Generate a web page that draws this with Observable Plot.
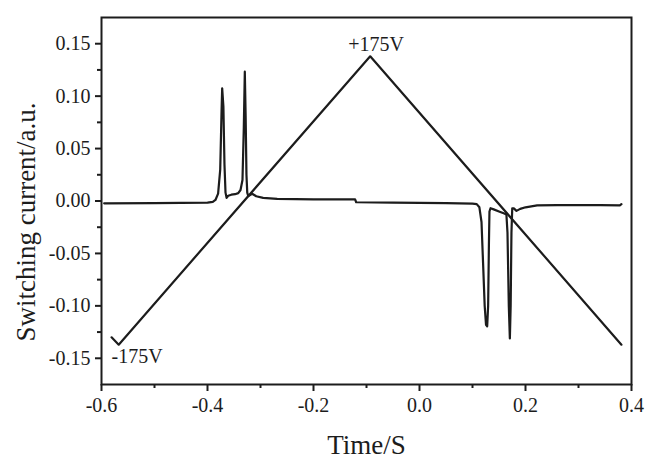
<!DOCTYPE html>
<html>
<head>
<meta charset="utf-8">
<script src="https://cdn.jsdelivr.net/npm/d3@7"></script>
<script src="https://cdn.jsdelivr.net/npm/@observablehq/plot@0.6"></script>
<style>
  html, body { margin: 0; padding: 0; background: #fff; }
  svg, svg text { font-family: "Liberation Serif", serif !important; }
</style>
</head>
<body>
<div id="chart"></div>
<script>
// Triangular voltage ramp (drawn on the same axes)
const rampTime = [-0.581, -0.5675, -0.093, 0.381];
const rampValue = [-0.130, -0.137, 0.138, -0.137];

// Switching current trace
const currentTime = [
  -0.595, -0.50, -0.40, -0.390, -0.385, -0.380, -0.376, -0.3735, -0.3723, -0.370,
  -0.368, -0.366, -0.364, -0.361, -0.355, -0.348, -0.342, -0.3377, -0.334, -0.3315,
  -0.3296, -0.3280, -0.3265, -0.325, -0.323, -0.3157, -0.308, -0.295, -0.2685, -0.20,
  -0.1215, -0.1195, -0.05, 0.05, 0.100, 0.108, 0.113, 0.117, 0.120, 0.123,
  0.1255, 0.1277, 0.1295, 0.131, 0.132, 0.134, 0.140, 0.150, 0.160, 0.164,
  0.166, 0.1685, 0.1705, 0.172, 0.1735, 0.175, 0.178, 0.183, 0.190, 0.200,
  0.222, 0.260, 0.300, 0.3415, 0.378, 0.381
];
const currentValue = [
  -0.0022, -0.0021, -0.0015, -0.0008, 0.0010, 0.0070, 0.0300, 0.0850, 0.1075, 0.0900,
  0.0350, 0.0080, 0.0030, 0.0050, 0.0060, 0.0065, 0.0075, 0.0105, 0.0200, 0.0700,
  0.1233, 0.0800, 0.0250, 0.0080, 0.0047, 0.0069, 0.0045, 0.0030, 0.0020, 0.0016,
  0.0015, -0.0012, -0.0015, -0.0020, -0.0025, -0.0030, -0.0060, -0.0200, -0.0600, -0.1000,
  -0.1180, -0.1195, -0.1000, -0.0400, -0.0100, -0.0069, -0.0080, -0.0100, -0.0120, -0.0130,
  -0.0300, -0.1000, -0.1310, -0.1000, -0.0300, -0.0069, -0.0070, -0.0094, -0.0075, -0.0060,
  -0.0042, -0.0040, -0.0040, -0.0040, -0.0042, -0.0030
];

// Axis ticks
const xMajor = [-0.6, -0.4, -0.2, 0, 0.2, 0.4];
const xMinor = [-0.5, -0.3, -0.1, 0.1, 0.3];
const yMajor = [-0.15, -0.10, -0.05, 0, 0.05, 0.10, 0.15];
const yMinor = [-0.125, -0.075, -0.025, 0.025, 0.075, 0.125];

// Annotations
const peakLabel = "+175V";
const peakTime = -0.082;
const peakValue = 0.1495;
const troughLabel = "-175V";
const troughTime = -0.581;
const troughValue = -0.1486;

const xTitle = "Time/S";
const yTitle = "Switching current/a.u.";

const ramp = rampTime.map((t, i) => ({t, v: rampValue[i]}));
const current = currentTime.map((t, i) => ({t, v: currentValue[i]}));

const fmt = (digits) => (d) => (d < 0 ? "-" : "") + Math.abs(d).toFixed(digits);
const ink = "#1c1c1c";
const serif = "Liberation Serif, serif";

const chart = Plot.plot({
  width: 645,
  height: 460,
  marginLeft: 101,
  marginRight: 14,
  marginTop: 17,
  marginBottom: 76,
  style: {fontFamily: serif, color: ink, background: "#fff"},
  x: {domain: [-0.6, 0.4]},
  y: {domain: [-0.175, 0.175]},
  marks: [
    Plot.axisX(xMajor, {tickSize: 7, tickPadding: 6, tickFormat: fmt(1), fontSize: 20, fontFamily: serif, strokeWidth: 2, stroke: ink, label: null}),
    Plot.axisX(xMinor, {tickSize: 4, tickFormat: () => "", strokeWidth: 2, stroke: ink, label: null}),
    Plot.axisY(yMajor, {tickSize: 6, tickPadding: 5, tickFormat: fmt(2), fontSize: 20, fontFamily: serif, strokeWidth: 2, stroke: ink, label: null}),
    Plot.axisY(yMinor, {tickSize: 4, tickFormat: () => "", strokeWidth: 2, stroke: ink, label: null}),
    Plot.line(ramp, {x: "t", y: "v", stroke: ink, strokeWidth: 2.2}),
    Plot.line(current, {x: "t", y: "v", stroke: ink, strokeWidth: 2.2}),
    Plot.text([peakLabel], {x: () => peakTime, y: () => peakValue, textAnchor: "middle", fontSize: 20, fontFamily: serif, fill: ink}),
    Plot.text([troughLabel], {x: () => troughTime, y: () => troughValue, textAnchor: "start", fontSize: 20, fontFamily: serif, fill: ink}),
    Plot.text([xTitle], {frameAnchor: "bottom", textAnchor: "middle", lineAnchor: "middle", dy: 61, fontSize: 27, fontFamily: serif, fill: ink}),
    Plot.text([yTitle], {frameAnchor: "left", textAnchor: "middle", lineAnchor: "middle", rotate: -90, dx: -75, dy: 21, fontSize: 27, fontFamily: serif, fill: ink}),
    Plot.frame({stroke: ink, strokeWidth: 2})
  ]
});

document.getElementById("chart").appendChild(chart);
</script>
</body>
</html>
